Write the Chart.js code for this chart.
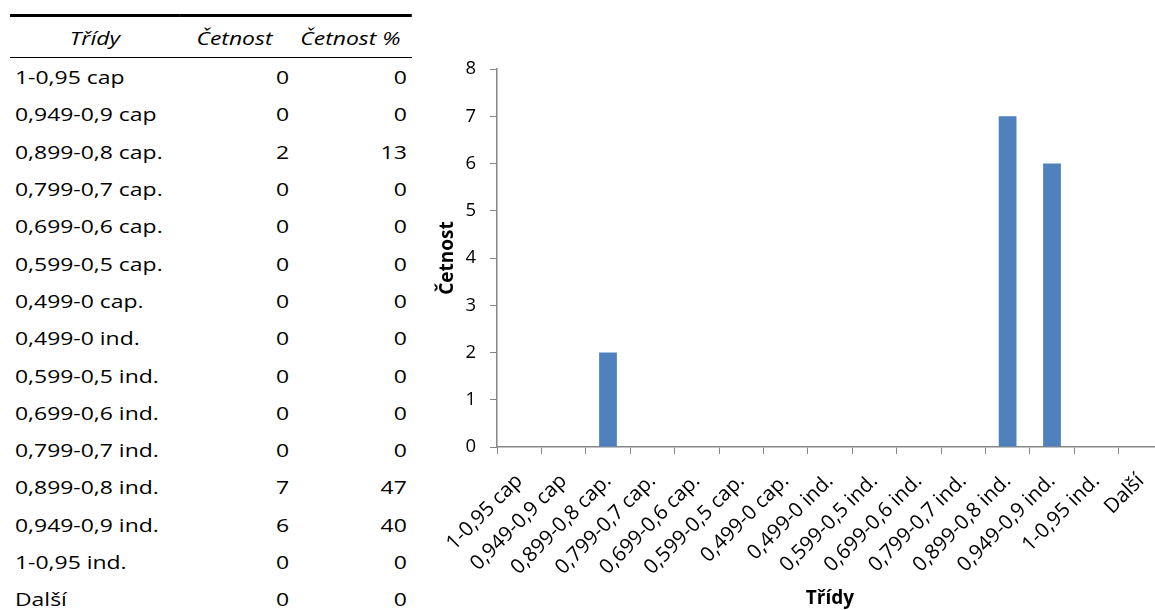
<!DOCTYPE html>
<html>
<head>
<meta charset="utf-8">
<script src="https://cdn.jsdelivr.net/npm/chart.js@4"></script>
<style>
  body { margin: 0; width: 1155px; height: 610px; overflow: hidden; background: #fff; font-family: "Open Sans", sans-serif; color: #000; }
  /* table text is wide in the picture, so stretch it sideways */
  #freq_table { position: absolute; left: 10px; top: 14px; width: 324px; border-collapse: collapse; table-layout: fixed;
      font-size: 18.5px; transform: scaleX(1.24); transform-origin: 0 0; }
  #freq_table thead th { font-weight: normal; font-style: italic; height: 40px; padding: 0; border-top: 3px solid #000; border-bottom: 1.5px solid #000; text-align: center; }
  #freq_table td { height: 37.3px; padding: 0; }
  #freq_table td.name { padding-left: 4px; }
  #freq_table td.num { text-align: right; }
  #freq_table td.pct { text-align: right; padding-right: 4px; }
  #chart_box { position: absolute; left: 420px; top: 40px; }
</style>
</head>
<body>
<table id="freq_table">
  <colgroup><col style="width:137px"><col style="width:88px"><col style="width:99px"></colgroup>
  <thead><tr><th>Třídy</th><th>Četnost</th><th>Četnost %</th></tr></thead>
  <tbody></tbody>
</table>
<div id="chart_box"><canvas id="bar_chart" width="760" height="570"></canvas></div>
<script>
const classes = ['1-0,95 cap', '0,949-0,9 cap', '0,899-0,8 cap.', '0,799-0,7 cap.', '0,699-0,6 cap.',
    '0,599-0,5 cap.', '0,499-0 cap.', '0,499-0 ind.', '0,599-0,5 ind.', '0,699-0,6 ind.',
    '0,799-0,7 ind.', '0,899-0,8 ind.', '0,949-0,9 ind.', '1-0,95 ind.', 'Další'];
const counts = [0, 0, 2, 0, 0, 0, 0, 0, 0, 0, 0, 7, 6, 0, 0];
const percents = [0, 0, 13, 0, 0, 0, 0, 0, 0, 0, 0, 47, 40, 0, 0];
const y_ticks = [0, 1, 2, 3, 4, 5, 6, 7, 8];

function fill_table() {
    const tableBody = document.querySelector('#freq_table tbody');
    classes.forEach((name, i) => {
        const row = tableBody.insertRow();
        const c0 = row.insertCell(0); c0.textContent = name; c0.className = 'name';
        const c1 = row.insertCell(1); c1.textContent = counts[i]; c1.className = 'num';
        const c2 = row.insertCell(2); c2.textContent = percents[i]; c2.className = 'pct';
    });
}

function create_bar_chart() {
    const axisColor = '#868686';
    const family = '"Open Sans", sans-serif';
    const ctx = document.getElementById('bar_chart').getContext('2d');
    new Chart(ctx, {
        type: 'bar',
        data: {
            labels: classes,
            datasets: [{
                label: 'Četnost',
                data: counts,
                backgroundColor: '#4F81BD',
                barPercentage: 0.4,
                categoryPercentage: 1.0,
            }]
        },
        options: {
            responsive: false,
            animation: false,
            layout: { padding: { top: 29, right: 17, left: 0, bottom: 0 } },
            plugins: { legend: { display: false }, tooltip: { enabled: false } },
            scales: {
                x: {
                    afterFit: scale => { scale.height = 163; },
                    grid: { drawOnChartArea: false, color: axisColor, tickLength: 7, offset: true },
                    border: { color: axisColor, width: 1.5 },
                    ticks: { autoSkip: false, minRotation: 45, maxRotation: 45, color: '#000', padding: 15,
                        font: { family: family, size: 20.5 } },
                    title: { display: true, text: 'Třídy', color: '#000', padding: { top: 2, bottom: 0 },
                        font: { family: family, size: 19, weight: 'bold' } }
                },
                y: {
                    min: 0, max: 8,
                    afterFit: scale => { scale.width = 77; },
                    afterBuildTicks: scale => { scale.ticks = y_ticks.map(v => ({ value: v })); },
                    grid: { drawOnChartArea: false, color: axisColor, tickLength: 7 },
                    border: { color: axisColor, width: 1.5 },
                    ticks: { color: '#000', padding: 14, font: { family: family, size: 18.5 } },
                    title: { display: true, text: 'Četnost', color: '#000', padding: { top: 16, bottom: 0 },
                        font: { family: family, size: 19, weight: 'bold' } }
                }
            }
        }
    });
}

fill_table();
create_bar_chart();
</script>
</body>
</html>
